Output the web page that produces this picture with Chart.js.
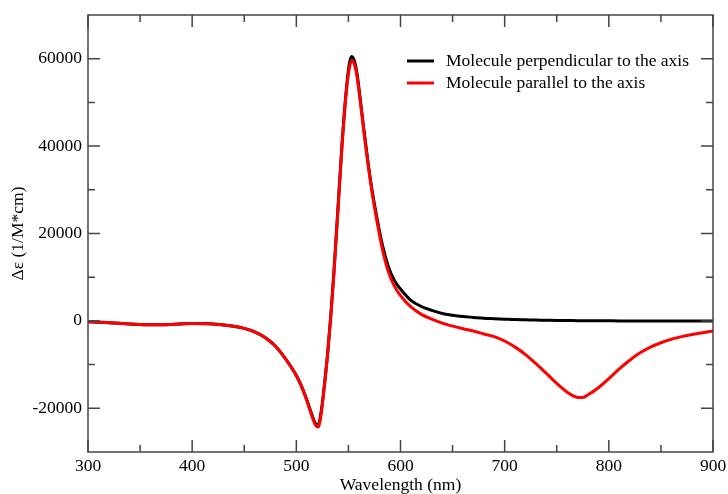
<!DOCTYPE html>
<html>
<head>
<meta charset="utf-8">
<script src="https://cdn.jsdelivr.net/npm/chart.js@4/dist/chart.umd.min.js"></script>
<style>
  html, body { margin: 0; padding: 0; background: #fff; }
  #wrap { width: 728px; height: 494px; }
</style>
</head>
<body>
<div id="wrap"><canvas id="cdChart" width="728" height="494"></canvas></div>
<script>
// wavelength grid (nm)
var wavelength = [300, 320, 340, 360, 380, 400, 420, 440, 450, 460, 470, 480, 490, 500, 505, 510, 515, 518, 521, 524, 527, 530, 533, 536, 540, 544, 548, 551, 553, 555, 558, 561, 565, 569, 573, 578, 583, 588, 594, 600, 610, 620, 630, 640, 650, 660, 670, 680, 690, 700, 710, 720, 730, 740, 750, 760, 770, 775, 780, 790, 800, 810, 820, 830, 840, 850, 860, 870, 880, 890, 900];

// delta epsilon, molecule perpendicular to the axis
var perpendicular = [-200, -400, -700, -900, -800, -600, -700, -1200, -1700, -2500, -3800, -5800, -8800, -12500, -15000, -18000, -21500, -23300, -23800, -20500, -14500, -7500, 1000, 11000, 26000, 41000, 53000, 59000, 60500, 60000, 57000, 51500, 43500, 36000, 29500, 22800, 17000, 12700, 9300, 7300, 4700, 3300, 2400, 1700, 1300, 1000, 800, 600, 500, 400, 300, 250, 200, 150, 100, 80, 50, 40, 30, 20, 10, 0, 0, 0, 0, 0, 0, 0, 0, 0, 0];

// delta epsilon, molecule parallel to the axis
var parallel = [-200, -400, -700, -900, -800, -600, -700, -1200, -1700, -2500, -3800, -5800, -8800, -12500, -15000, -18200, -21800, -23700, -24300, -21000, -14800, -7800, 700, 10500, 25500, 40500, 52500, 58000, 59500, 59200, 56300, 51000, 43000, 35500, 29000, 22000, 16000, 11500, 8000, 5800, 3200, 1500, 400, -500, -1200, -1800, -2300, -3000, -3600, -4600, -6000, -7700, -9800, -12000, -14300, -16300, -17500, -17500, -16900, -15300, -13200, -11000, -9000, -7300, -6000, -5000, -4200, -3600, -3100, -2700, -2300];

var seriesLabels = ['Molecule perpendicular to the axis', 'Molecule parallel to the axis'];

var serif = "'Liberation Serif', 'Times New Roman', serif";

function pts(ys) {
  return wavelength.map(function (x, i) { return { x: x, y: ys[i] }; });
}

// box frame with inward major/minor ticks on all four sides
var framePlugin = {
  id: 'frame',
  afterDraw: function (chart) {
    var ctx = chart.ctx, a = chart.chartArea;
    var xs = chart.scales.x, ys = chart.scales.y;
    ctx.save();
    ctx.strokeStyle = '#444';
    ctx.lineWidth = 1.5;
    ctx.strokeRect(a.left, a.top, a.right - a.left, a.bottom - a.top);
    ctx.beginPath();
    xs.ticks.forEach(function (t) {
      var major = t.value % 100 === 0;
      var len = major ? 12 : 7;
      var px = xs.getPixelForValue(t.value);
      ctx.moveTo(px, a.bottom); ctx.lineTo(px, a.bottom - len);
      ctx.moveTo(px, a.top); ctx.lineTo(px, a.top + len);
    });
    ys.ticks.forEach(function (t) {
      if (t.value === ys.min || t.value === ys.max) return;
      var major = t.value % 20000 === 0;
      var len = major ? 12 : 7;
      var py = ys.getPixelForValue(t.value);
      ctx.moveTo(a.left, py); ctx.lineTo(a.left + len, py);
      ctx.moveTo(a.right, py); ctx.lineTo(a.right - len, py);
    });
    ctx.stroke();

    // legend
    var lx = 407, ly = 61;
    chart.data.datasets.forEach(function (ds, i) {
      var y = ly + i * 22;
      ctx.strokeStyle = ds.borderColor;
      ctx.lineWidth = 3;
      ctx.beginPath();
      ctx.moveTo(lx, y); ctx.lineTo(lx + 27, y);
      ctx.stroke();
      ctx.fillStyle = '#000';
      ctx.font = '17.5px ' + serif;
      ctx.textBaseline = 'middle';
      ctx.fillText(ds.label, lx + 39, y);
    });
    ctx.restore();
  }
};

new Chart(document.getElementById('cdChart'), {
  type: 'line',
  data: {
    datasets: [
      // red drawn over black (lower order = on top)
      { label: seriesLabels[0], data: pts(perpendicular), borderColor: '#000', borderWidth: 3, pointRadius: 0, cubicInterpolationMode: 'monotone', order: 2 },
      { label: seriesLabels[1], data: pts(parallel), borderColor: '#ff0000', borderWidth: 3, pointRadius: 0, cubicInterpolationMode: 'monotone', order: 1 }
    ]
  },
  options: {
    responsive: false,
    animation: false,
    layout: { padding: { top: 15, right: 15, bottom: 0, left: 0 } },
    plugins: { legend: { display: false }, tooltip: { enabled: false } },
    scales: {
      x: {
        type: 'linear', min: 300, max: 900,
        grid: { display: false, drawTicks: false }, border: { display: false },
        ticks: {
          stepSize: 50, padding: 4, color: '#000', font: { family: serif, size: 17.5 },
          callback: function (v) { return v % 100 === 0 ? v : ''; }
        },
        title: { display: true, text: 'Wavelength (nm)', color: '#000', font: { family: serif, size: 17.5 }, padding: { top: 0, bottom: -2 } },
        afterFit: function (s) { s.height = 42; s.paddingLeft = 0; s.paddingRight = 0; }
      },
      y: {
        type: 'linear', min: -30000, max: 70000,
        grid: { display: false, drawTicks: false }, border: { display: false },
        ticks: {
          stepSize: 10000, padding: 6, color: '#000', font: { family: serif, size: 17.5 },
          callback: function (v) { return (v % 20000 === 0 && v !== 70000 && v !== -30000) ? v : ''; }
        },
        title: { display: true, text: 'Δε (1/M*cm)', color: '#000', font: { family: serif, size: 17.5 }, padding: { top: 8, bottom: 0 } },
        afterFit: function (s) { s.width = 88; s.paddingTop = 0; s.paddingBottom = 0; }
      }
    }
  },
  plugins: [framePlugin]
});
</script>
</body>
</html>
